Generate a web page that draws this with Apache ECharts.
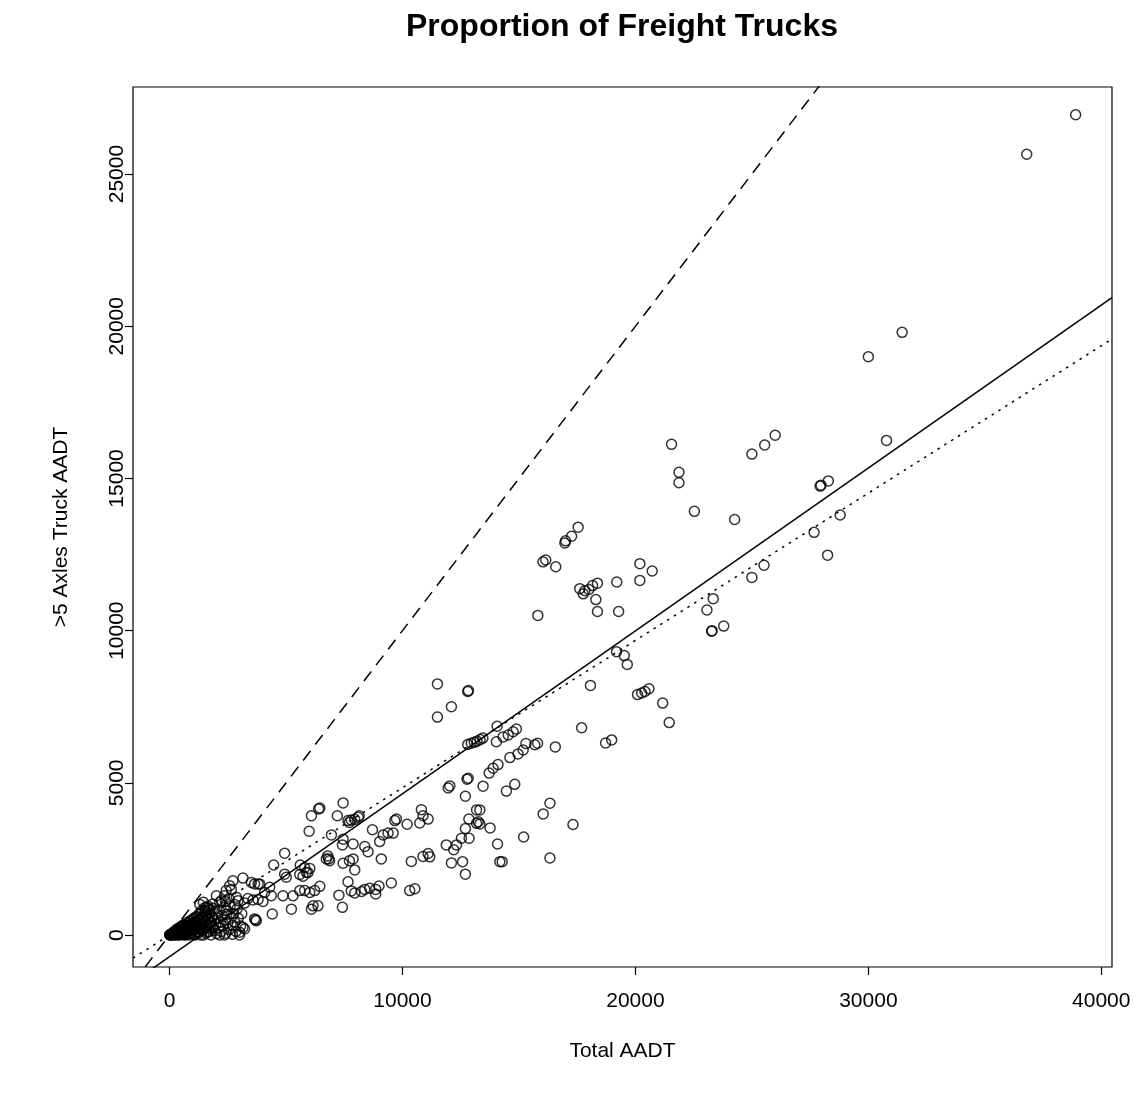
<!DOCTYPE html>
<html>
<head>
<meta charset="utf-8">
<script src="https://cdn.jsdelivr.net/npm/echarts@6/dist/echarts.min.js"></script>
<style>
  html, body { margin: 0; padding: 0; background: #ffffff; }
  #chart { width: 1147px; height: 1101px; }
</style>
</head>
<body>
<div id="chart"></div>
<script>
// Total AADT per count station
const totalAadt = [
  38900, 36800, 31450, 30000, 30780, 25000, 25550, 26000, 27930, 27970, 28280, 28790, 27670, 28250, 25520, 25000,
  21550, 21870, 21870, 22530, 24260, 17540, 17260, 17000, 16970, 16580, 16030, 16150, 20190, 20720, 20190, 19200,
  18370, 18160, 18000, 17830, 17610, 17760, 18300, 18370, 19280, 23340, 23070, 23790, 23270, 23290, 15810, 19190,
  19520, 19650, 18070, 20090, 20270, 20410, 20580, 21170, 21450, 17690, 11500, 12800, 12830, 12100, 11500, 14060,
  18720, 18980, 12800, 12950, 13080, 13200, 13330, 13450, 14030, 14320, 14540, 14750, 14890, 15300, 15680, 15800,
  16560, 15180, 14960, 14610, 14100, 13890, 13720, 12820, 12030, 13460, 14820, 14460, 13320, 13320, 13760, 14080,
  14180, 14280, 15200, 16040, 16330, 17320, 16330,
  7450, 6400, 6450, 6090, 7200, 5990, 7660, 7800, 7950, 8100, 8140, 7720, 8710, 6950, 9170, 9380,
  9600, 9670, 9740, 10200, 10740, 10810, 10880, 11100, 7450, 7420, 7880, 8380, 8520, 9020, 6790, 6830,
  6870, 7880, 7720, 7450, 7950, 9090, 10380, 10880, 11100, 11170, 5590, 5800, 5940, 7660, 7800, 7950,
  8240, 8380, 8590, 8850, 8990, 8850, 9520, 10310, 10530, 7270, 7420, 5590, 5800, 6020, 6230, 6450,
  6160, 6370, 6090, 11960, 12770, 12700, 13180, 13250, 13180, 12850, 12700, 12530, 12320, 12200, 11880, 12860,
  12100, 12580, 12700,
  4940, 4470, 5610, 6020, 5870, 4940, 5010, 5730, 6730, 2720, 2580, 2650, 3150, 3800, 3510, 2430,
  2360, 2870, 2940, 4300, 4370, 4870, 5300, 5230, 4410, 3700, 3220, 3360, 3580, 3800, 4010, 1860,
  1580, 2150, 2220, 2010, 2430, 2720, 3150, 3220, 3720, 2150, 2360, 3010, 3650, 3870, 4080, 3650,
  0, 30, 60, 90, 120, 150, 180, 210, 240, 270, 300, 330, 360, 400, 430, 460,
  490, 520, 550, 580, 610, 640, 670, 700, 730, 760, 790, 820, 850, 880, 910, 940,
  970, 1000, 1030, 1060, 1090, 1120, 1150, 1180, 1210, 1240, 1270, 1300, 1330, 1360, 1390, 1420,
  1450, 1480, 1510, 1540, 1570, 1600, 1630, 1660, 1690, 1720, 1750, 1780, 1810, 1840, 1870, 1900,
  1930, 1960, 1990, 2020, 2060, 2100, 2140, 2180, 2220, 2260, 2300, 2340, 2380, 2420, 2460, 2500,
  2550, 2600, 2650, 2700, 2750, 2800, 2850, 2900, 2950, 3000, 3050, 3100, 1300, 1450, 1650, 2550,
  2400, 2800,
  20, 45, 75, 110, 140, 170, 200, 230, 260, 290, 320, 350, 380, 410, 440, 470,
  500, 530, 560, 590, 620, 650, 680, 710, 740, 770, 800, 830, 860, 890, 920, 950,
  980, 1010, 1040, 1070, 1100, 1130, 1160, 1190, 1220, 1250, 1280, 1310, 1340, 1370, 1400, 1430,
  1460, 1490, 1520, 1550, 1580, 1610, 1640, 1670, 1700, 1730, 1760, 1790
];

// AADT of trucks with more than 5 axles, same stations
const truckAadt = [
  26950, 25650, 19800, 19000, 16250, 15800, 16100, 16420, 14750, 14780, 14920, 13800, 13230, 12480, 12150, 11750,
  16120, 15200, 14860, 13920, 13650, 13400, 13100, 12950, 12880, 12100, 12260, 12320, 12200, 11960, 11650, 11600,
  11560, 11480, 11350, 11310, 11380, 11210, 11020, 10630, 10630, 11050, 10680, 10150, 9980, 10000, 10500, 9310,
  9180, 8890, 8200, 7900, 7950, 8000, 8090, 7620, 6980, 6810, 8250, 8000, 8030, 7500, 7160, 6860,
  6310, 6410, 6260, 6300, 6330, 6370, 6420, 6470, 6350, 6510, 6570, 6680, 6770, 6290, 6250, 6300,
  6180, 6080, 5950, 5830, 5600, 5480, 5320, 5150, 4900, 4890, 4950, 4730, 4110, 3650, 3520, 2990,
  2410, 2410, 3220, 3980, 4330, 3630, 2530,
  4340, 4140, 4170, 3920, 3920, 3410, 3760, 3780, 3800, 3870, 3920, 3700, 3460, 3290, 3290, 3350,
  3350, 3760, 3810, 3640, 3680, 4120, 3920, 3810, 3150, 2960, 2990, 2910, 2740, 3070, 2600, 2500,
  2440, 2500, 2440, 2360, 2140, 2500, 2420, 2580, 2680, 2570, 1990, 2220, 2050, 1750, 1450, 1380,
  1430, 1500, 1540, 1500, 1610, 1350, 1710, 1460, 1520, 1310, 910, 1460, 1460, 1400, 1460, 1600,
  960, 960, 850, 4830, 5120, 4560, 4110, 3720, 3670, 3810, 3500, 3180, 2960, 2800, 2960, 3180,
  2370, 2410, 2000,
  2690, 2300, 2300, 2190, 2060, 2000, 1900, 1930, 2500, 1780, 1620, 1500, 1870, 1680, 1730, 1460,
  1290, 1240, 1130, 1570, 1290, 1290, 1290, 850, 690, 500, 1050, 1200, 1150, 1170, 1100, 1020,
  910, 1070, 1130, 1290, 800, 310, 250, 200, 470, 0, 0, 90, 1680, 1680, 1400, 530,
  0, 10, 0, 40, 20, 0, 60, 30, 100, 10, 70, 150, 40, 0, 110, 200,
  60, 20, 250, 130, 0, 80, 310, 180, 40, 230, 380, 110, 0, 290, 450, 160,
  60, 350, 520, 220, 20, 420, 600, 280, 120, 480, 700, 330, 0, 560, 800, 380,
  180, 640, 900, 450, 60, 720, 300, 520, 120, 820, 400, 0, 600, 250, 880, 480,
  150, 700, 350, 50, 560, 250, 800, 420, 120, 650, 300, 900, 500, 60, 680, 400,
  180, 950, 560, 30, 700, 420, 120, 860, 550, 0, 300, 700, 1000, 1080, 950, 1200,
  1100, 1000,
  15, 0, 35, 60, 10, 90, 25, 130, 0, 170, 50, 210, 90, 0, 250, 140,
  30, 300, 180, 60, 350, 220, 0, 280, 110, 420, 170, 40, 330, 230, 480, 90,
  380, 160, 560, 270, 0, 430, 190, 600, 320, 80, 500, 240, 700, 380, 140, 560,
  0, 450, 800, 250, 620, 100, 520, 880, 340, 700, 200, 430
];

const xTicks = [0, 10000, 20000, 30000, 40000];
const yTicks = [0, 5000, 10000, 15000, 20000, 25000];

// Reference lines: least-squares fit (solid), one-to-one (dashed), second fit (dotted)
const lsFitX = [-1570, 40460];
const lsFitY = [-1550, 20940];
const identityX = [-1570, 28500];
const identityY = [-1570, 28500];
const altFitX = [-1570, 40460];
const altFitY = [-760, 19580];

const FONT = '"Liberation Sans", Arial, Helvetica, sans-serif';

const pairs = (xs, ys) => xs.map((x, i) => [x, ys[i]]);
const plain = v => String(v);

const chart = echarts.init(document.getElementById('chart'), null, { renderer: 'canvas' });

chart.setOption({
  animation: false,
  backgroundColor: '#ffffff',
  title: {
    text: 'Proportion of Freight Trucks',
    left: 622,
    top: 11,
    textAlign: 'center',
    padding: 0,
    textStyle: { fontFamily: FONT, fontSize: 32, fontWeight: 'bold', color: '#000' }
  },
  grid: {
    left: 133, right: 35, top: 87, bottom: 134,
    show: true, borderColor: '#000', borderWidth: 1.2, backgroundColor: 'transparent',
    containLabel: false
  },
  xAxis: {
    type: 'value',
    min: -1570, max: 40460,
    name: 'Total AADT',
    nameLocation: 'middle',
    nameGap: 74,
    nameTextStyle: { fontFamily: FONT, fontSize: 21, color: '#000' },
    splitLine: { show: false },
    axisLine: { show: false, onZero: false },
    axisTick: { show: true, inside: false, length: 8, customValues: xTicks, lineStyle: { color: '#000', width: 1.2 } },
    axisLabel: { customValues: xTicks, formatter: plain, margin: 24, fontFamily: FONT, fontSize: 21, color: '#000' }
  },
  yAxis: {
    type: 'value',
    min: -1050, max: 27860,
    name: '>5 Axles Truck AADT',
    nameLocation: 'middle',
    nameRotate: 90,
    nameGap: 61,
    nameTextStyle: { fontFamily: FONT, fontSize: 21, color: '#000' },
    splitLine: { show: false },
    axisLine: { show: false, onZero: false },
    axisTick: { show: true, inside: false, length: 8, customValues: yTicks, lineStyle: { color: '#000', width: 1.2 } },
    axisLabel: { customValues: yTicks, formatter: plain, rotate: 90, margin: 5, fontFamily: FONT, fontSize: 21, color: '#000' }
  },
  series: [
    {
      type: 'scatter',
      data: pairs(totalAadt, truckAadt),
      symbol: 'circle',
      symbolSize: 10,
      itemStyle: { color: 'rgba(0,0,0,0)', borderColor: '#000', borderWidth: 1.5 },
      emphasis: { disabled: true },
      clip: true,
      z: 2
    },
    {
      type: 'line',
      data: pairs(lsFitX, lsFitY),
      showSymbol: false,
      symbol: 'none',
      clip: true,
      lineStyle: { color: '#000', width: 1.5, type: 'solid' },
      emphasis: { disabled: true },
      z: 3
    },
    {
      type: 'line',
      data: pairs(identityX, identityY),
      showSymbol: false,
      symbol: 'none',
      clip: true,
      lineStyle: { color: '#000', width: 1.5, type: [12, 8] },
      emphasis: { disabled: true },
      z: 3
    },
    {
      type: 'line',
      data: pairs(altFitX, altFitY),
      showSymbol: false,
      symbol: 'none',
      clip: true,
      lineStyle: { color: '#000', width: 1.5, type: [2.5, 5.5] },
      emphasis: { disabled: true },
      z: 3
    }
  ]
});
</script>
</body>
</html>
